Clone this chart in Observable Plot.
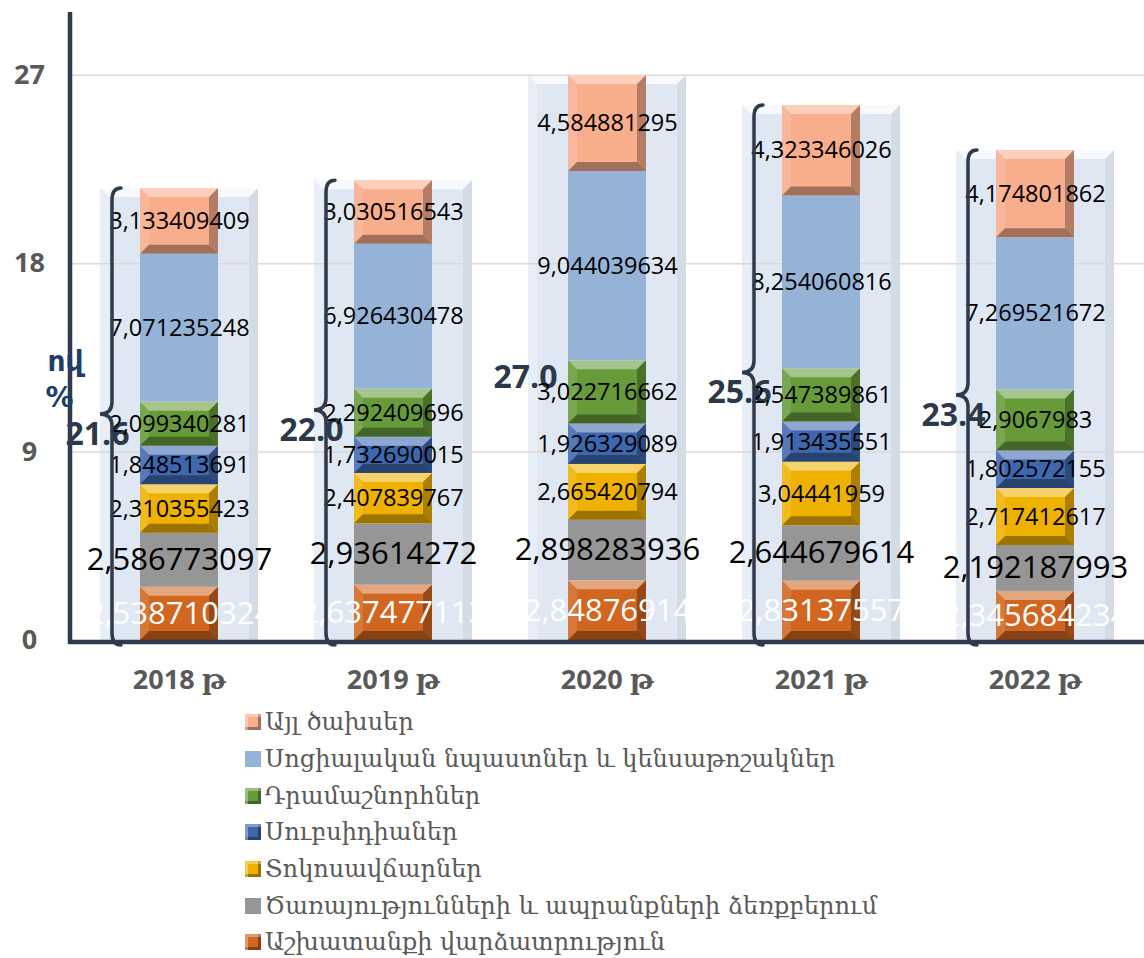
<!DOCTYPE html>
<html><head><meta charset="utf-8">
<script src="https://cdn.jsdelivr.net/npm/d3@7"></script>
<script src="https://cdn.jsdelivr.net/npm/@observablehq/plot@0.6"></script>
<style>
html,body{margin:0;padding:0;background:#fff;}
#wrap{position:relative;width:1144px;height:958px;overflow:hidden;}
#legend{position:absolute;left:245px;top:704px;font-family:"DejaVu Serif",serif;font-size:24px;color:#595959;}
.row{height:36.7px;display:flex;align-items:center;white-space:nowrap;}
.sw{width:16px;height:16px;margin-right:4px;flex:none;}
</style></head><body><div id="wrap"><div id="chart"></div><div id="legend"></div></div>
<script>
const years = ["2018 թ", "2019 թ", "2020 թ", "2021 թ", "2022 թ"];
// stack order, bottom to top
const seriesNames = [
  "Աշխատանքի վարձատրություն",
  "Ծառայությունների և ապրանքների ձեռքբերում",
  "Տոկոսավճարներ",
  "Սուբսիդիաներ",
  "Դրամաշնորհներ",
  "Սոցիալական նպաստներ և կենսաթոշակներ",
  "Այլ ծախսեր"
];
const labor     = [2.538710324, 2.637477113, 2.84876914, 2.83137557, 2.345684234];
const services  = [2.586773097, 2.93614272, 2.898283936, 2.644679614, 2.192187993];
const interest  = [2.310355423, 2.407839767, 2.665420794, 3.04441959, 2.717412617];
const subsidies = [1.848513691, 1.732690015, 1.926329089, 1.913435551, 1.802572155];
const grants    = [2.099340281, 2.292409696, 3.022716662, 2.547389861, 2.9067983];
const social    = [7.071235248, 6.926430478, 9.044039634, 8.254060816, 7.269521672];
const other     = [3.133409409, 3.030516543, 4.584881295, 4.323346026, 4.174801862];
const seriesColors = ["#d0661f", "#969696", "#efb100", "#3f67ae", "#679b3a", "#95b3d7", "#f8ad8c"];
const bevelled = [true, false, true, true, true, false, true];
const yTicks = [0, 9, 18, 27];
const braceYears = ["2018 թ", "2019 թ", "2021 թ", "2022 թ"];
const yLabel = ["ով", "%"];

const seriesValues = [labor, services, interest, subsidies, grants, social, other];
const rows = [];
years.forEach((yr, i) => {
  let acc = 0;
  seriesValues.forEach((vals, s) => {
    const v = vals[i];
    rows.push({year: yr, series: seriesNames[s], s, value: v, y1: acc, y2: acc + v, mid: acc + v / 2});
    acc += v;
  });
});
const totals = years.map((yr, i) => ({year: yr, total: d3.sum(seriesValues, vals => vals[i])}));
const fmt = v => String(v).replace(".", ",");

const BAR_INSET = 68, TUBE_INSET = 28;
const DARK = "#2f3b4c";

function poly(g, pts, fill, op) {
  g.append("polygon").attr("points", pts.map(p => p.join(",")).join(" ")).attr("fill", fill).attr("fill-opacity", op);
}

function tubeBevel(index, scales) {
  const x = scales.x, y = scales.y, bw = x.bandwidth();
  const g = d3.create("svg:g");
  for (const t of totals) {
    const x0 = x(t.year) + TUBE_INSET, x1 = x(t.year) + bw - TUBE_INSET;
    const yt = y(t.total), yb = y(0), b = 9;
    poly(g, [[x0, yt], [x1, yt], [x1 - b, yt + b], [x0 + b, yt + b]], "#fff", 0.75);
    poly(g, [[x1, yt], [x1 - b, yt + b], [x1 - b, yb], [x1, yb]], "#000", 0.05);
    poly(g, [[x0, yt], [x0 + b, yt + b], [x0 + b, yb], [x0, yb]], "#fff", 0.25);
  }
  return g.node();
}

function barBevel(index, scales) {
  const x = scales.x, y = scales.y, bw = x.bandwidth();
  const g = d3.create("svg:g");
  for (const r of rows) {
    if (!bevelled[r.s]) continue;
    const x0 = x(r.year) + BAR_INSET, x1 = x(r.year) + bw - BAR_INSET;
    const yt = y(r.y2), yb = y(r.y1);
    const b = Math.min(9, (yb - yt) / 3);
    poly(g, [[x0, yt], [x1, yt], [x1 - b, yt + b], [x0 + b, yt + b]], "#fff", 0.42);
    poly(g, [[x0, yb], [x1, yb], [x1 - b, yb - b], [x0 + b, yb - b]], "#000", 0.35);
    poly(g, [[x0, yt], [x0 + b, yt + b], [x0 + b, yb - b], [x0, yb]], "#fff", 0.12);
    poly(g, [[x1, yt], [x1 - b, yt + b], [x1 - b, yb - b], [x1, yb]], "#000", 0.28);
  }
  return g.node();
}

function braces(index, scales) {
  const x = scales.x, y = scales.y, bw = x.bandwidth();
  const g = d3.create("svg:g").attr("fill", "none").attr("stroke", DARK)
    .attr("stroke-width", 3.5).attr("stroke-linecap", "round");
  for (const t of totals) {
    if (!braceYears.includes(t.year)) continue;
    const xv = x(t.year) + BAR_INSET - 28;
    const yt = y(t.total), yb = y(0) + 5, ym = y(t.total / 2), r = 12;
    g.append("path").attr("d",
      `M${xv + 9},${yt} Q${xv},${yt} ${xv},${yt + r} L${xv},${ym - r} Q${xv},${ym} ${xv - 12},${ym} ` +
      `Q${xv},${ym} ${xv},${ym + r} L${xv},${yb - r} Q${xv},${yb} ${xv + 9},${yb}`);
  }
  return g.node();
}

function axisLines(index, scales, values, dims) {
  const {marginLeft, marginTop, marginBottom, marginRight, width, height} = dims;
  const g = d3.create("svg:g").attr("stroke", DARK).attr("stroke-width", 4.5);
  g.append("line").attr("x1", marginLeft).attr("x2", marginLeft).attr("y1", marginTop).attr("y2", height - marginBottom + 4);
  g.append("line").attr("x1", marginLeft - 2).attr("x2", width - marginRight).attr("y1", height - marginBottom + 2).attr("y2", height - marginBottom + 2);
  return g.node();
}

const chart = Plot.plot({
  width: 1144,
  height: 705,
  marginLeft: 70,
  marginRight: 0,
  marginTop: 12,
  marginBottom: 65,
  style: {fontFamily: "'Open Sans', 'DejaVu Serif', sans-serif", background: "transparent", overflow: "visible"},
  x: {domain: years, padding: 0, axis: null},
  y: {domain: [0, 30], axis: null},
  color: {domain: seriesNames, range: seriesColors},
  marks: [
    Plot.barY(totals, {x: "year", y: "total", fill: "#dfe8f2", insetLeft: TUBE_INSET, insetRight: TUBE_INSET}),
    tubeBevel,
    Plot.ruleY(yTicks.filter(d => d > 0), {stroke: "#d9d9d9", strokeWidth: 1.5}),
    Plot.barY(rows, {x: "year", y1: "y1", y2: "y2", fill: "series", insetLeft: BAR_INSET, insetRight: BAR_INSET}),
    barBevel,
    Plot.text(totals, {x: "year", y: d => d.total / 2, text: d => d.total.toFixed(1), textAnchor: "end", dx: -50, dy: 20,
      fontSize: 32, fontWeight: "bold", fill: "#2b3949"}),
    Plot.text(rows.filter(r => r.s >= 2), {x: "year", y: "mid", text: r => fmt(r.value), fontSize: 23.5, fill: "#000"}),
    Plot.text(rows.filter(r => r.s === 1), {x: "year", y: "mid", text: r => fmt(r.value), fontSize: 31, fill: "#000"}),
    Plot.text(rows.filter(r => r.s === 0), {x: "year", y: "mid", text: r => fmt(r.value), fontSize: 31, fill: "#fff"}),
    braces,
    axisLines,
    Plot.text(yTicks, {y: d => d, frameAnchor: "left", dx: -41, textAnchor: "middle", fontSize: 27, fontWeight: "bold", fill: "#595959"}),
    Plot.text(years, {x: d => d, frameAnchor: "bottom", dy: 48, fontSize: 27, fontWeight: "bold", fill: "#595959"}),
    Plot.text([yLabel[0]], {frameAnchor: "left", dx: -23, dy: 36, textAnchor: "start", fontSize: 28, fontWeight: "bold",
      fontFamily: "'DejaVu Sans', sans-serif", fill: "#1f3d6b"}),
    Plot.text([yLabel[1]], {frameAnchor: "left", dx: -25, dy: 72, textAnchor: "start", fontSize: 28, fontWeight: "bold",
      fontFamily: "'DejaVu Sans', sans-serif", fill: "#1f3d6b"})
  ]
});
document.getElementById("chart").appendChild(chart);

const legend = document.getElementById("legend");
for (let s = seriesNames.length - 1; s >= 0; s--) {
  const row = document.createElement("div");
  row.className = "row";
  const sw = document.createElement("div");
  sw.className = "sw";
  sw.style.background = seriesColors[s];
  if (bevelled[s]) sw.style.boxShadow = "inset 3px 3px 0 rgba(255,255,255,.35), inset -3px -3px 0 rgba(0,0,0,.35)";
  const tx = document.createElement("span");
  tx.textContent = seriesNames[s];
  row.appendChild(sw);
  row.appendChild(tx);
  legend.appendChild(row);
}
</script></body></html>
